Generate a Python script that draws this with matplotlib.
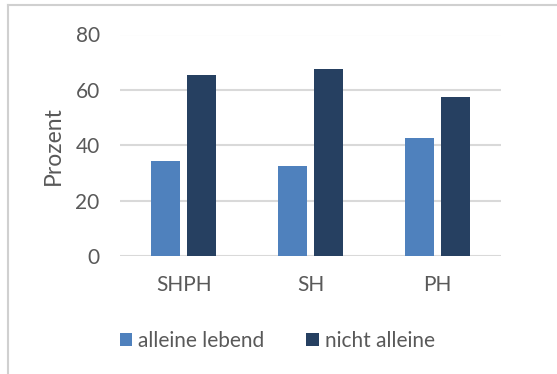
import matplotlib.pyplot as plt
import numpy as np
from matplotlib.lines import Line2D

# Anteil in Prozent je Gruppe
gruppen = ["SHPH", "SH", "PH"]
alleine_lebend = [34.4, 32.6, 42.6]
nicht_alleine = [65.4, 67.4, 57.3]

hell = "#4F81BD"
dunkel = "#264061"
grau = "#595959"

plt.rcParams['font.family'] = ['Lato', 'DejaVu Sans']

fig = plt.figure(figsize=(5.57, 3.74), dpi=100)
ax = fig.add_axes([120.5 / 557, 1 - 256 / 374, 380 / 557, 221.5 / 374])

x = np.arange(len(gruppen))
breite = 0.229
ab = 0.142
ax.bar(x - ab, alleine_lebend, breite, color=hell, label="alleine lebend", zorder=3)
ax.bar(x + ab, nicht_alleine, breite, color=dunkel, label="nicht alleine", zorder=3)

ax.set_xlim(-0.5, 2.5)
ax.set_ylim(0, 80)
ax.set_yticks([0, 20, 40, 60, 80])
ax.set_xticks(x)
ax.set_xticklabels(gruppen)
ax.tick_params(length=0, colors=grau, labelsize=15)
ax.tick_params(axis='x', pad=14)
ax.tick_params(axis='y', pad=15)
ax.yaxis.grid(True, color="#D9D9D9", linewidth=1.5, zorder=0)
ax.set_axisbelow(True)
for s in ax.spines.values():
    s.set_visible(False)
ax.set_ylabel("Prozent", color=grau, fontsize=16.5, labelpad=8)

leg = fig.legend(loc="center", bbox_to_anchor=(0.498, 1 - 341 / 374), ncol=2,
                 frameon=False, fontsize=15, handlelength=0.6, handleheight=0.6,
                 handletextpad=0.3, columnspacing=2.0)
for t in leg.get_texts():
    t.set_color(grau)

# Rahmen links und oben
x0, y0 = 7.5 / 557, 1 - 5 / 374
fig.add_artist(Line2D([x0, x0], [0, y0], transform=fig.transFigure,
                      color="#D0D0D0", linewidth=1.5))
fig.add_artist(Line2D([x0, 1], [y0, y0], transform=fig.transFigure,
                      color="#D0D0D0", linewidth=1.5))

fig.savefig("out.png", dpi=100)
